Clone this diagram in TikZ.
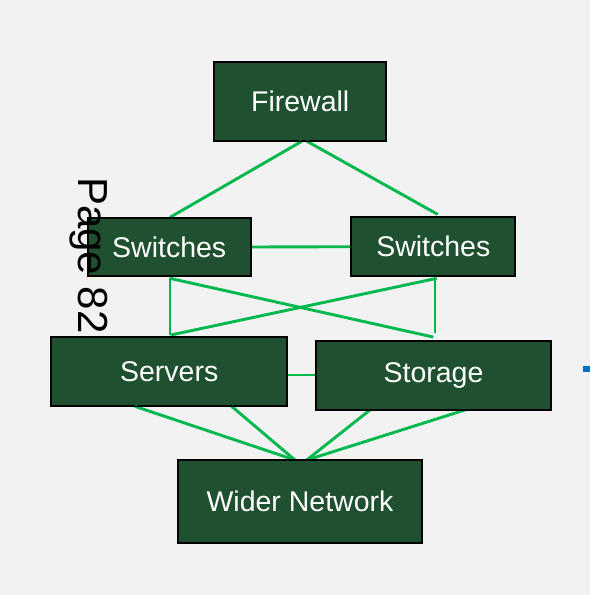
\documentclass[tikz,border=0pt]{standalone}
\usepackage{fontspec}
\setmainfont{Liberation Sans}
\definecolor{pagebg}{HTML}{F2F2F2}
\definecolor{boxgreen}{HTML}{1F5130}
\definecolor{linkgreen}{HTML}{00B84C}
\definecolor{markblue}{HTML}{0070C0}
\tikzset{
  netbox/.style={draw=black, line width=1.3pt, fill=boxgreen, text=white,
    font=\fontsize{28.5}{32}\selectfont, inner sep=0pt, anchor=center},
  link/.style={draw=linkgreen, line width=2.9pt}
}
\begin{document}
\begin{tikzpicture}[x=1pt,y=-1pt]
  % canvas
  \fill[pagebg] (0,0) rectangle (590,595);
  \useasboundingbox (0,0) rectangle (590,595);

  % boxes
  \node[netbox, minimum width=171pt, minimum height=78pt] (fw) at (300.2,101.7) {Firewall};
  \node[netbox, minimum width=162.5pt, minimum height=58pt] (swl) at (169.2,247) {Switches};
  \node[netbox, minimum width=163.3pt, minimum height=58pt] (swr) at (433.3,246.7) {Switches};
  \node[netbox, minimum width=235pt, minimum height=68.4pt] (srv) at (169.2,371.5) {Servers};
  \node[netbox, minimum width=235pt, minimum height=67.6pt] (sto) at (433.5,375.5) {Storage};
  \node[netbox, minimum width=243.4pt, minimum height=81.6pt] (wn) at (300,501.5) {Wider Network};

  % firewall to switches
  \draw[link] ([xshift=1.5pt]fw.south) -- ([xshift=0.8pt]swl.north);
  \draw[link] ([xshift=6.8pt]fw.south) -- ([xshift=4.4pt,yshift=2.7pt]swr.north);
  % switch to switch
  \draw[link] (swl.east) -- (swr.west);
  % switches to servers / storage
  \draw[link] ([xshift=0.8pt,yshift=-1.7pt]swl.south) -- ([xshift=0.8pt,yshift=1.6pt]srv.north);
  \draw[link] ([xshift=1.7pt,yshift=-2pt]swr.south) -- ([xshift=1.5pt,yshift=8.4pt]sto.north);
  \draw[link] ([xshift=0.8pt,yshift=-1.7pt]swl.south) -- ([xshift=-0.2pt,yshift=4pt]sto.north);
  \draw[link] ([xshift=3.4pt,yshift=-2pt]swr.south) -- ([xshift=1.5pt,yshift=1.6pt]srv.north);
  % servers to storage
  \draw[link] ([yshift=-3.5pt]srv.east) -- ([yshift=0.5pt]sto.west);
  % servers / storage to wider network
  \draw[link] ([xshift=-34.2pt]srv.south) -- ([xshift=-5pt]wn.north);
  \draw[link] ([xshift=62.5pt]srv.south) -- ([xshift=-5pt]wn.north);
  \draw[link] ([xshift=-63.5pt]sto.south) -- ([xshift=6.7pt]wn.north);
  \draw[link] ([xshift=31.5pt]sto.south) -- ([xshift=6.7pt]wn.north);

  % redraw box outlines over link ends
  \foreach \b in {fw,swl,swr,srv,sto,wn}{
    \draw[black, line width=1.3pt] (\b.north west) rectangle (\b.south east);
  }

  % page label
  \node[rotate=-90, anchor=base west, inner sep=0pt,
        font=\fontsize{42}{46}\selectfont] (pg) at (78,177) {Page 82};

  % edge mark
  \fill[markblue] (583,366) rectangle (590,371.7);
\end{tikzpicture}
\end{document}
